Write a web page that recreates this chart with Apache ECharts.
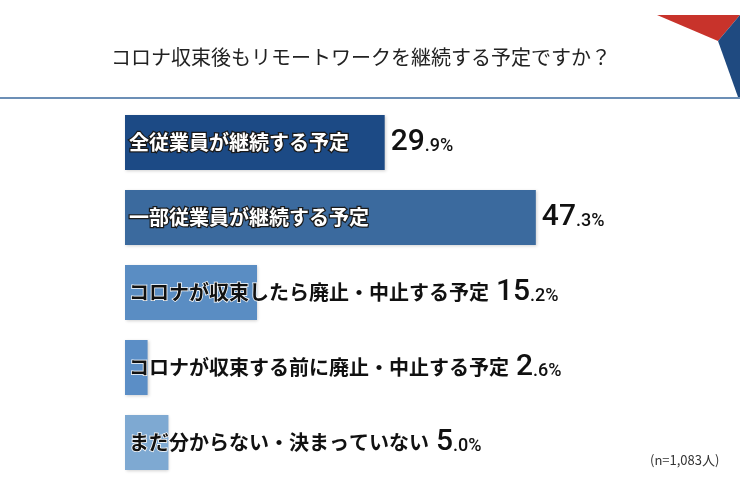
<!DOCTYPE html>
<html><head><meta charset="utf-8">
<script src="https://cdn.jsdelivr.net/npm/echarts@6/dist/echarts.min.js"></script>
<style>html,body{margin:0;padding:0;background:#fff}#c{width:753px;height:480px}</style>
</head><body><div id="c"></div>
<script>
const titleText = 'コロナ収束後もリモートワークを継続する予定ですか？';
const categories = ['全従業員が継続する予定','一部従業員が継続する予定','コロナが収束したら廃止・中止する予定','コロナが収束する前に廃止・中止する予定','まだ分からない・決まっていない'];
const values = [29.9, 47.3, 15.2, 2.6, 5.0];
const colors = ['#1c4a85','#3b6a9e','#5a8dc3','#5b8ec6','#7ea9d2'];
const noteText = '(n=1,083人)';

const W = 753, GL = 125, GR = 20, XMAX = 70;
const pxPer = (W - GL - GR) / XMAX;
const catFont = 'bold 20px "Noto Sans CJK JP"';
const cv = document.createElement('canvas').getContext('2d');
cv.font = catFont;
function textW(s){ return cv.measureText(s).width; }
function valRich(v, pad){
  const s = v.toFixed(1);
  const i = s.indexOf('.');
  return '{' + (pad ? 'bigp' : 'big') + '|' + s.slice(0,i) + '}{small|' + s.slice(i) + '%}';
}
const dark = [true, true, false, false, false];
const overflow = values.map((v,i)=> textW(categories[i]) + 10 > v*pxPer);

const richStyles = {
  big:{fontFamily:'Roboto',fontWeight:500,fontSize:30,color:'#111'},
  bigp:{fontFamily:'Roboto',fontWeight:500,fontSize:30,color:'#111',padding:[0,0,0,7]},
  small:{fontFamily:'Roboto',fontWeight:500,fontSize:18,color:'#111',padding:[7,0,0,0]},
  catW:{fontFamily:'Noto Sans CJK JP',fontWeight:'bold',fontSize:20,color:'#fff',textBorderColor:'#1a1a1a',textBorderWidth:2.5},
  catB:{fontFamily:'Noto Sans CJK JP',fontWeight:'bold',fontSize:20,color:'#111',textBorderColor:'#fff',textBorderWidth:1.5}
};

const mainData = values.map((v,i)=>({
  value:v,
  itemStyle:{color:colors[i]},
  label:{
    formatter: (dark[i] ? '{catW|' : '{catB|') + categories[i] + '}' + (overflow[i] ? valRich(v, true) : '')
  }
}));
const valData = values.map((v,i)=>({
  value:v,
  label:{show: !overflow[i], formatter: valRich(v, false)}
}));

const chart = echarts.init(document.getElementById('c'), null, {renderer:'canvas'});
chart.setOption({
  animation:false,
  backgroundColor:'#fff',
  grid:{left:GL, right:GR, top:105, bottom:-2},
  xAxis:{type:'value', min:0, max:XMAX, show:false},
  yAxis:{type:'category', data:categories, inverse:true, show:false},
  series:[
    {type:'bar', data:mainData, barWidth:55, z:2,
     itemStyle:{shadowBlur:3, shadowColor:'rgba(0,0,0,0.18)', shadowOffsetX:1, shadowOffsetY:1},
     label:{show:true, position:'insideLeft', distance:4, rich:richStyles}},
    {type:'bar', data:valData, barWidth:55, barGap:'-100%', z:1,
     itemStyle:{color:'rgba(0,0,0,0)'},
     label:{show:true, position:'right', distance:6, rich:richStyles}}
  ],
  graphic:[
    {type:'text', left:111, top:47, style:{text:titleText, font:'20px "Noto Sans CJK JP"', fill:'#222'}},
    {type:'line', shape:{x1:0,y1:98,x2:740,y2:98}, style:{stroke:'#3b6a9e', lineWidth:1.5}},
    {type:'polygon', shape:{points:[[657,15],[740,15],[718,41]]}, style:{fill:'#c8332b'}},
    {type:'polygon', shape:{points:[[740,15],[718,41],[738,97],[740,97]]}, style:{fill:'#1f4a80'}},
    {type:'text', left:650, top:454, style:{text:noteText, font:'13px "Noto Sans CJK JP"', fill:'#333'}}
  ]
});
</script></body></html>
